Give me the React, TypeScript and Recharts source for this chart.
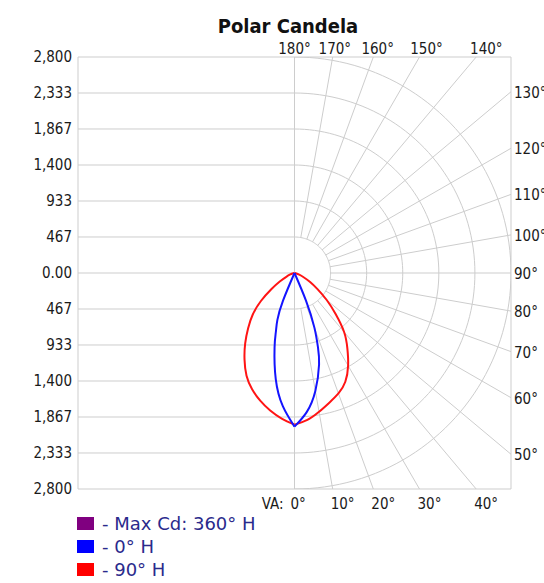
import React from 'react';
import { ComposedChart, Line, XAxis, YAxis, ReferenceLine } from 'recharts';

// ---------- data ----------
const RMAX = 2800;
const Y_TICK_VALUES = [2800, 2333.33, 1866.67, 1400, 933.33, 466.67, 0, -466.67, -933.33, -1400, -1866.67, -2333.33, -2800];
const Y_TICK_LABELS = ['2,800', '2,333', '1,867', '1,400', '933', '467', '0.00', '467', '933', '1,400', '1,867', '2,333', '2,800'];
const GRID_RADII = [466.67, 933.33, 1400, 1866.67, 2333.33, 2800];
const RADIAL_ANGLES = [0, 10, 20, 30, 40, 50, 60, 70, 80, 90, 100, 110, 120, 130, 140, 150, 160, 170, 180];
const TOP_ANGLES = [180, 170, 160, 150, 140];
const RIGHT_ANGLES = [130, 120, 110, 100, 90, 80, 70, 60, 50];
const BOTTOM_ANGLES = [0, 10, 20, 30, 40];

const BLUE_ANGLES = [0, 5, 10, 15, 17.5, 20, 22.5, 25];
const CD_0H = [1991, 1810, 1552, 1228, 1009, 750, 388, 0];
const CD_180H = [1991, 1733, 1396, 996, 802, 647, 388, 0];

const RED_ANGLES = [0, 5, 10, 15, 20, 25, 30, 35, 40, 45, 50, 55, 60, 65, 70, 75, 80];
const CD_90H = [1966, 1912, 1827, 1740, 1662, 1555, 1387, 1192, 998, 752, 544, 363, 233, 130, 65, 26, 0];
const CD_270H = [1966, 1894, 1810, 1713, 1603, 1468, 1293, 1112, 933, 765, 570, 363, 220, 117, 65, 26, 0];

const LEGEND_LABELS = ['- Max Cd: 360° H', '- 0° H', '- 90° H'];
const LEGEND_COLORS = ['#800080', '#0000ff', '#ff0000'];

// ---------- helpers ----------
const FONT = "'DejaVu Sans Condensed', 'DejaVu Sans', sans-serif";
const GRID = '#cdcdcd';
const PX_PER_UNIT = 216.5 / RMAX;
const rad = (d: number) => (d * Math.PI) / 180;

// angle 0 = straight down, 180 = straight up; side +1 = right half, -1 = left half
const toPoints = (angles: number[], cds: number[], side: number) =>
  angles.map((a, i) => ({ x: side * cds[i] * Math.sin(rad(a)), y: -cds[i] * Math.cos(rad(a)) }));

const arcPoints = (r: number) => {
  const pts = [];
  for (let a = 0; a <= 180; a += 2) pts.push({ x: r * Math.sin(rad(a)), y: -r * Math.cos(rad(a)) });
  return pts;
};

const radialPoints = (a: number) => {
  const s = Math.abs(Math.sin(rad(a)));
  const c = Math.abs(Math.cos(rad(a)));
  const rEnd = Math.min(s > 1e-9 ? RMAX / s : Infinity, c > 1e-9 ? RMAX / c : Infinity);
  const r0 = GRID_RADII[0];
  return [
    { x: r0 * Math.sin(rad(a)), y: -r0 * Math.cos(rad(a)) },
    { x: rEnd * Math.sin(rad(a)), y: -rEnd * Math.cos(rad(a)) },
  ];
};

const topTicks = TOP_ANGLES.map((a) => -RMAX * Math.tan(rad(a)));
const bottomTicks = BOTTOM_ANGLES.map((a) => RMAX * Math.tan(rad(a)));
const rightTicks = RIGHT_ANGLES.map((a) => (-RMAX * Math.cos(rad(a))) / Math.sin(rad(a)));

const nearest = (arr: number[], v: number) => {
  let best = 0;
  arr.forEach((t, i) => {
    if (Math.abs(t - v) < Math.abs(arr[best] - v)) best = i;
  });
  return best;
};

const textProps = { fontSize: 15, fill: '#1a1a1a', fontFamily: FONT, fontStretch: 'condensed' };

const LeftTick = (p: any) => (
  <text x={p.x} y={p.y} dy={5} textAnchor="end" {...textProps}>
    {Y_TICK_LABELS[nearest(Y_TICK_VALUES, p.payload.value)]}
  </text>
);
const RightTick = (p: any) => (
  <text x={p.x + 1} y={p.y} dy={6} textAnchor="start" {...textProps}>
    {RIGHT_ANGLES[nearest(rightTicks, p.payload.value)] + '°'}
  </text>
);
const TopTick = (p: any) => {
  // label sits on the radial line extended slightly above the frame
  const shift = p.payload.value * PX_PER_UNIT * 0.056;
  return (
    <text x={p.x + shift} y={54} textAnchor="middle" {...textProps}>
      {TOP_ANGLES[nearest(topTicks, p.payload.value)] + '°'}
    </text>
  );
};
const BottomTick = (p: any) => {
  const i = nearest(bottomTicks, p.payload.value);
  const startX = i === 0 ? p.x - 4 : p.x - 2;
  return (
    <g>
      {i === 0 && (
        <text x={startX - 7} y={509} textAnchor="end" {...textProps}>
          VA:
        </text>
      )}
      <text x={startX} y={509} textAnchor="start" {...textProps}>
        {BOTTOM_ANGLES[i] + '°'}
      </text>
    </g>
  );
};

export default function App() {
  const gridLineProps = {
    dataKey: 'y',
    stroke: GRID,
    strokeWidth: 1,
    dot: false,
    activeDot: false,
    isAnimationActive: false,
    legendType: 'none' as const,
    type: 'linear' as const,
  };
  const curveProps = {
    dataKey: 'y',
    type: 'natural' as const,
    strokeWidth: 2,
    dot: false,
    activeDot: false,
    isAnimationActive: false,
  };
  return (
    <div style={{ position: 'absolute', left: 0, top: 0, width: 544, height: 583, background: '#fff' }}>
      <div
        style={{
          position: 'absolute',
          left: 288,
          top: 16,
          transform: 'translateX(-50%)',
          fontFamily: FONT,
          fontStretch: 'condensed',
          fontWeight: 'bold',
          fontSize: 20,
          lineHeight: '20px',
          color: '#111',
          whiteSpace: 'nowrap',
        }}
      >
        Polar Candela
      </div>
      <ComposedChart width={544} height={583} margin={{ top: 27, right: 0, bottom: 64, left: 18 }}>
        <XAxis
          xAxisId={0}
          dataKey="x"
          type="number"
          domain={[-RMAX, RMAX]}
          allowDataOverflow
          orientation="bottom"
          height={30}
          ticks={bottomTicks}
          interval={0}
          tickSize={0}
          tickMargin={2}
          tick={<BottomTick />}
          axisLine={{ stroke: GRID }}
          tickLine={false}
        />
        <XAxis
          xAxisId="top"
          dataKey="x"
          type="number"
          domain={[-RMAX, RMAX]}
          allowDataOverflow
          orientation="top"
          height={30}
          ticks={topTicks}
          interval={0}
          tickSize={0}
          tickMargin={2}
          tick={<TopTick />}
          axisLine={{ stroke: GRID }}
          tickLine={false}
        />
        <YAxis
          yAxisId={0}
          type="number"
          domain={[-RMAX, RMAX]}
          allowDataOverflow
          orientation="left"
          width={60}
          ticks={Y_TICK_VALUES}
          interval={0}
          tickSize={0}
          tickMargin={6}
          tick={<LeftTick />}
          axisLine={{ stroke: GRID }}
          tickLine={false}
        />
        <YAxis
          yAxisId="right"
          type="number"
          domain={[-RMAX, RMAX]}
          allowDataOverflow
          orientation="right"
          width={33}
          ticks={rightTicks}
          interval={0}
          tickSize={0}
          tickMargin={2}
          tick={<RightTick />}
          axisLine={{ stroke: GRID }}
          tickLine={false}
        />
        {Y_TICK_VALUES.slice(1, -1).map((v) => (
          <ReferenceLine
            key={'h' + v}
            segment={[
              { x: -RMAX, y: v },
              { x: 0, y: v },
            ]}
            stroke={GRID}
            strokeWidth={1}
          />
        ))}
        <ReferenceLine x={0} stroke={GRID} strokeWidth={1} />
        {GRID_RADII.map((r) => (
          <Line key={'c' + r} data={arcPoints(r)} {...gridLineProps} />
        ))}
        {RADIAL_ANGLES.map((a) => (
          <Line key={'r' + a} data={radialPoints(a)} {...gridLineProps} xAxisId={a === 180 ? 'top' : 0} />
        ))}
        <Line data={toPoints(RED_ANGLES, CD_90H, 1)} stroke="#ff1414" {...curveProps} />
        <Line data={toPoints(RED_ANGLES, CD_270H, -1)} stroke="#ff1414" {...curveProps} />
        <Line data={toPoints(BLUE_ANGLES, CD_0H, 1)} stroke="#1414ff" {...curveProps} />
        <Line data={toPoints(BLUE_ANGLES, CD_180H, -1)} stroke="#1414ff" {...curveProps} />
      </ComposedChart>
      {LEGEND_LABELS.map((label, i) => (
        <div
          key={label}
          style={{
            position: 'absolute',
            left: 77,
            top: 512 + i * 23,
            height: 23,
            display: 'flex',
            alignItems: 'center',
            fontFamily: "'DejaVu Sans', sans-serif",
            fontSize: 18,
            lineHeight: '23px',
            color: '#2a2a8c',
            whiteSpace: 'nowrap',
          }}
        >
          <span style={{ display: 'inline-block', width: 17, height: 13, background: LEGEND_COLORS[i], marginRight: 8 }} />
          <span>{label}</span>
        </div>
      ))}
    </div>
  );
}
